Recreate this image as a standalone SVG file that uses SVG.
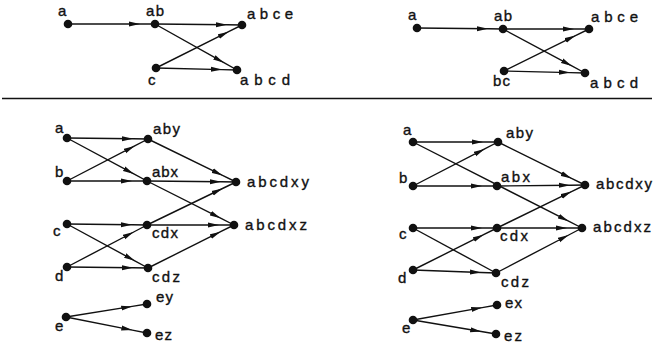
<svg xmlns="http://www.w3.org/2000/svg" width="654" height="346" viewBox="0 0 654 346">
<style>
.e{fill:none;stroke:#111;stroke-width:1.4;marker-mid:url(#ah)}
.p{fill:none;stroke:#111;stroke-width:1.4}
.n{fill:#111}
text{font-family:"Liberation Sans",Arial,sans-serif;font-size:15px;fill:#111;stroke:#111;stroke-width:0.35}
</style>
<defs>
<marker id="ah" markerUnits="userSpaceOnUse" markerWidth="12" markerHeight="6" refX="11" refY="3" orient="auto" viewBox="0 0 12 6">
<path d="M0,0.5 L11,3 L0,5.5 z" fill="#111"/>
</marker>
</defs>
<rect width="654" height="346" fill="#fff"/>
<line x1="2" y1="98.5" x2="652" y2="98.5" stroke="#111" stroke-width="1.3"/>
<g id="connectors">
<!-- top-left -->
<path class="e" d="M68,24 L140,24 L155,24"/>
<path class="e" d="M155,24 L227,24.8 L242,25"/>
<path class="e" d="M155,24 L223.9,62.7 L237,70"/>
<path class="e" d="M156,68 L228.6,31.7 L242,25"/>
<path class="e" d="M156,68 L222,69.6 L237,70"/>
<!-- top-right -->
<path class="e" d="M417,28 L488,28.8 L503,29"/>
<path class="e" d="M503,29 L574,29 L589,29"/>
<path class="e" d="M503,29 L571.8,65.9 L585,73"/>
<path class="e" d="M504,71 L575.5,35.6 L589,29"/>
<path class="e" d="M504,71 L570,72.6 L585,73"/>
<!-- bottom-left -->
<path class="e" d="M67,138 L133,138.8 L148,139"/>
<path class="e" d="M67,138 L133.8,173.9 L147,181"/>
<path class="e" d="M67,181 L134.7,145.9 L148,139"/>
<path class="e" d="M67,181 L132,181 L147,181"/>
<path class="e" d="M148,139 L222.5,175.4 L236,182"/>
<path class="e" d="M147,181 L221,181.8 L236,182"/>
<path class="e" d="M147,181 L220.6,218.2 L234,225"/>
<path class="e" d="M67,224 L132,224.8 L147,225"/>
<path class="e" d="M67,224 L134.8,260.8 L148,268"/>
<path class="e" d="M67,267 L133.7,232 L147,225"/>
<path class="e" d="M67,267 L133,267.8 L148,268"/>
<path class="e" d="M147,225 L222.5,188.5 L236,182"/>
<path class="e" d="M147,225 L219,225 L234,225"/>
<path class="e" d="M148,268 L220.6,231.7 L234,225"/>
<path class="e" d="M66,317 L132.2,306.4 L147,304"/>
<path class="e" d="M66,317 L132.3,330.1 L147,333"/>
<!-- bottom-right -->
<path class="e" d="M413,142 L483,142 L498,142"/>
<path class="e" d="M413,142 L568.6,221.2 L582,228"/>
<path class="e" d="M413,186 L484.7,148.9 L498,142"/>
<path class="e" d="M413,186 L482,186 L497,186"/>
<path class="e" d="M498,142 L571.5,178.4 L585,185"/>
<path class="e" d="M497,186 L570,185.2 L585,185"/>
<path class="e" d="M413,228 L482,228 L497,228"/>
<path class="p" d="M413,228 L496,273"/>
<path class="e" d="M413,270 L483.6,234.7 L497,228"/>
<path class="e" d="M413,270 L481,272.5 L496,273"/>
<path class="e" d="M497,228 L571.5,191.6 L585,185"/>
<path class="e" d="M497,228 L567,228 L582,228"/>
<path class="e" d="M496,273 L568.7,235 L582,228"/>
<path class="e" d="M413,320 L482.2,307.6 L497,305"/>
<path class="e" d="M413,320 L481.2,331.5 L496,334"/>
</g>
<!-- top-left nodes -->
<g id="tl-a"><circle class="n" cx="68" cy="24" r="4.3"/><text x="58" y="16">a</text></g>
<g id="tl-ab"><circle class="n" cx="155" cy="24" r="4.3"/><text x="146" y="16" textLength="18">ab</text></g>
<g id="tl-abce"><circle class="n" cx="242" cy="25" r="4.3"/><text x="247" y="19" textLength="46">abce</text></g>
<g id="tl-c"><circle class="n" cx="156" cy="68" r="4.3"/><text x="148" y="85">c</text></g>
<g id="tl-abcd"><circle class="n" cx="237" cy="70" r="4.3"/><text x="240" y="85" textLength="50">abcd</text></g>
<!-- top-right nodes -->
<g id="tr-a"><circle class="n" cx="417" cy="28" r="4.3"/><text x="408" y="20">a</text></g>
<g id="tr-ab"><circle class="n" cx="503" cy="29" r="4.3"/><text x="494" y="21" textLength="18">ab</text></g>
<g id="tr-abce"><circle class="n" cx="589" cy="29" r="4.3"/><text x="591" y="22" textLength="47">abce</text></g>
<g id="tr-bc"><circle class="n" cx="504" cy="71" r="4.3"/><text x="493" y="86" textLength="17">bc</text></g>
<g id="tr-abcd"><circle class="n" cx="585" cy="73" r="4.3"/><text x="590" y="88" textLength="48">abcd</text></g>
<!-- bottom-left nodes -->
<g id="bl-a"><circle class="n" cx="67" cy="138" r="4.3"/><text x="55" y="133">a</text></g>
<g id="bl-b"><circle class="n" cx="67" cy="181" r="4.3"/><text x="55" y="177">b</text></g>
<g id="bl-c"><circle class="n" cx="67" cy="224" r="4.3"/><text x="53" y="236">c</text></g>
<g id="bl-d"><circle class="n" cx="67" cy="267" r="4.3"/><text x="55" y="281">d</text></g>
<g id="bl-e"><circle class="n" cx="66" cy="317" r="4.3"/><text x="55" y="331">e</text></g>
<g id="bl-aby"><circle class="n" cx="148" cy="139" r="4.3"/><text x="153" y="134" textLength="27">aby</text></g>
<g id="bl-abx"><circle class="n" cx="147" cy="181" r="4.3"/><text x="152" y="177" textLength="26">abx</text></g>
<g id="bl-cdx"><circle class="n" cx="147" cy="225" r="4.3"/><text x="152" y="238" textLength="26">cdx</text></g>
<g id="bl-cdz"><circle class="n" cx="148" cy="268" r="4.3"/><text x="152" y="282" textLength="28">cdz</text></g>
<g id="bl-ey"><circle class="n" cx="147" cy="304" r="4.3"/><text x="156" y="302" textLength="17">ey</text></g>
<g id="bl-ez"><circle class="n" cx="147" cy="333" r="4.3"/><text x="155" y="340" textLength="17">ez</text></g>
<g id="bl-abcdxy"><circle class="n" cx="236" cy="182" r="4.3"/><text x="247" y="187" textLength="62">abcdxy</text></g>
<g id="bl-abcdxz"><circle class="n" cx="234" cy="225" r="4.3"/><text x="245" y="230" textLength="62">abcdxz</text></g>
<!-- bottom-right nodes -->
<g id="br-a"><circle class="n" cx="413" cy="142" r="4.3"/><text x="403" y="135">a</text></g>
<g id="br-b"><circle class="n" cx="413" cy="186" r="4.3"/><text x="399" y="183">b</text></g>
<g id="br-c"><circle class="n" cx="413" cy="228" r="4.3"/><text x="399" y="239">c</text></g>
<g id="br-d"><circle class="n" cx="413" cy="270" r="4.3"/><text x="398" y="283">d</text></g>
<g id="br-e"><circle class="n" cx="413" cy="320" r="4.3"/><text x="402" y="333">e</text></g>
<g id="br-aby"><circle class="n" cx="498" cy="142" r="4.3"/><text x="506" y="138" textLength="27">aby</text></g>
<g id="br-abx"><circle class="n" cx="497" cy="186" r="4.3"/><text x="501" y="182" textLength="29">abx</text></g>
<g id="br-cdx"><circle class="n" cx="497" cy="228" r="4.3"/><text x="500" y="241" textLength="28">cdx</text></g>
<g id="br-cdz"><circle class="n" cx="496" cy="273" r="4.3"/><text x="501" y="287" textLength="28">cdz</text></g>
<g id="br-ex"><circle class="n" cx="497" cy="305" r="4.3"/><text x="505" y="308" textLength="17">ex</text></g>
<g id="br-ez"><circle class="n" cx="496" cy="334" r="4.3"/><text x="504" y="341" textLength="18">ez</text></g>
<g id="br-abcdxy"><circle class="n" cx="585" cy="185" r="4.3"/><text x="596" y="189" textLength="56">abcdxy</text></g>
<g id="br-abcdxz"><circle class="n" cx="582" cy="228" r="4.3"/><text x="593" y="232" textLength="58">abcdxz</text></g>
</svg>
